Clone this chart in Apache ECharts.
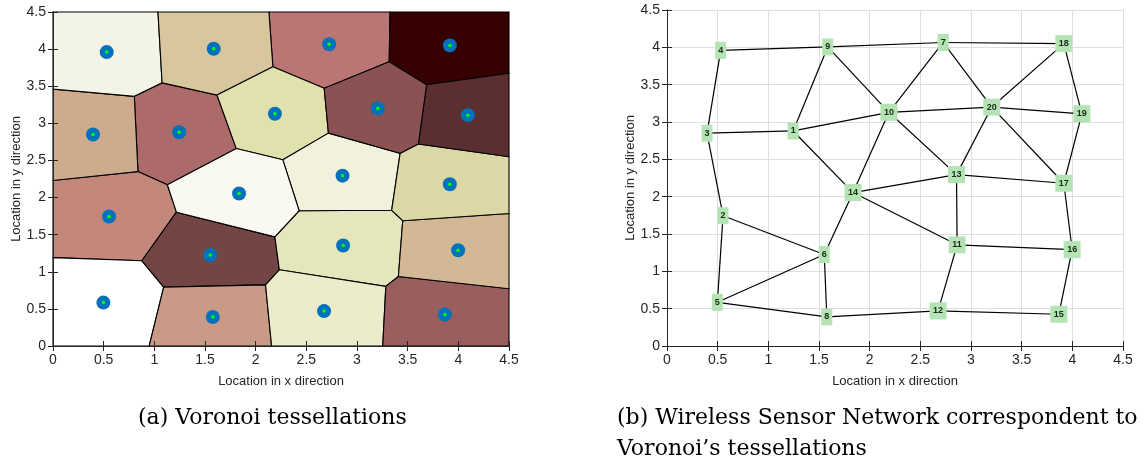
<!DOCTYPE html>
<html><head><meta charset="utf-8">
<script src="https://cdn.jsdelivr.net/npm/echarts@6/dist/echarts.min.js"></script>
<style>html,body{margin:0;padding:0;background:#fff}#c{width:1146px;height:463px}</style>
</head><body><div id="c"></div>
<script>
// ---- data ----
const nodeIds = ['1','2','3','4','5','6','7','8','9','10','11','12','13','14','15','16','17','18','19','20'];
const nodeX = [1.245,0.553,0.395,0.530,0.497,1.552,2.725,1.577,1.586,2.190,2.863,2.675,2.857,1.836,3.867,3.998,3.916,3.916,4.094,3.205];
const nodeY = [2.880,1.745,2.850,3.960,0.585,1.225,4.065,0.390,4.005,3.130,1.355,0.470,2.295,2.055,0.425,1.290,2.180,4.050,3.110,3.200];
const edgeFrom = [4,9,7,4,3,3,2,2,5,5,8,8,12,12,15,16,16,17,19,18,20,20,20,20,20,7,9,9,1,1,10,10,14,14,14,13,13];
const edgeTo   = [9,7,18,3,1,2,5,6,6,8,6,12,15,11,16,11,17,19,18,20,7,19,10,13,17,10,10,1,10,14,14,13,13,11,6,11,17];
const tickValues = [0,0.5,1,1.5,2,2.5,3,3.5,4,4.5];
const xName = 'Location in x direction';
const yName = 'Location in y direction';
const captionA = '(a) Voronoi tessellations';
const captionB1 = '(b) Wireless Sensor Network correspondent to';
const captionB2 = 'Voronoi\u2019s tessellations';

// ---- styles ----
const cellColors = ['#ad6a6a','#c3877c','#cfab8e','#f4f4e6','#ffffff','#744545','#bc7575','#c99a86','#d8c79e','#e1e1ae',
                    '#e6e6bd','#ececcd','#f1f1dd','#f9f9f2','#9a5e5e','#d3b896','#dcd8a6','#360000','#5b2f2f','#8a5252'];
const AX = '#262626';
const FONT = '"Liberation Sans", Arial, sans-serif';
const CAP_FONT = '22px "DejaVu Serif", serif';

// ---- Voronoi cells clipped to the axis box ----
const XMAX = tickValues[tickValues.length-1], YMAX = XMAX;
function clip(poly, a, b, c) {
  const out = [];
  for (let i = 0; i < poly.length; i++) {
    const P = poly[i], Q = poly[(i+1) % poly.length];
    const fp = a*P[0] + b*P[1] - c, fq = a*Q[0] + b*Q[1] - c;
    if (fp <= 0) out.push(P);
    if ((fp < 0 && fq > 0) || (fp > 0 && fq < 0)) {
      const t = fp / (fp - fq);
      out.push([P[0] + t*(Q[0]-P[0]), P[1] + t*(Q[1]-P[1])]);
    }
  }
  return out;
}
const cells = nodeX.map((xi, i) => {
  const yi = nodeY[i];
  let poly = [[0,0],[XMAX,0],[XMAX,YMAX],[0,YMAX]];
  nodeX.forEach((xj, j) => {
    if (j === i) return;
    const yj = nodeY[j];
    const a = xj - xi, b = yj - yi;
    const c = a*(xi+xj)/2 + b*(yi+yj)/2;
    poly = clip(poly, a, b, c);
  });
  return poly;
});

const sites = nodeX.map((x, i) => [x, nodeY[i]]);

function axisPair(gridIndex, withGrid) {
  const common = {
    gridIndex, min: 0, max: XMAX, interval: 0.5,
    axisLine: {show: true, lineStyle: {color: AX, width: 1}},
    axisTick: {show: true, inside: true, length: 5, lineStyle: {color: AX}},
    splitLine: {show: withGrid, lineStyle: {color: '#dfdfdf', width: 1}},
    axisLabel: {show: true, color: AX, fontSize: 14, fontFamily: FONT, margin: 7},
    nameTextStyle: {color: AX, fontSize: 13, fontFamily: FONT},
    nameLocation: 'middle'
  };
  const xs = [
    Object.assign({}, common, {type: 'value', position: 'bottom', name: xName, nameGap: 29, z: 5}),
    Object.assign({}, common, {type: 'value', position: 'top', axisLabel: {show: false}, splitLine: {show: false}, z: 5})
  ];
  const ys = [
    Object.assign({}, common, {type: 'value', position: 'left', name: yName, nameGap: 30, z: 5}),
    Object.assign({}, common, {type: 'value', position: 'right', axisLabel: {show: false}, splitLine: {show: false}, z: 5})
  ];
  return {xs, ys};
}
const A = axisPair(0, false), B = axisPair(1, true);
B.xs[0].z = 0; B.ys[0].z = 0;

const option = {
  animation: false,
  backgroundColor: '#ffffff',
  grid: [
    {left: 53, right: 637, top: 12, bottom: 117},
    {left: 667, right: 23, top: 10, bottom: 117}
  ],
  xAxis: [A.xs[0], A.xs[1], B.xs[0], B.xs[1]],
  yAxis: [A.ys[0], A.ys[1], B.ys[0], B.ys[1]],
  series: [
    {
      type: 'custom', xAxisIndex: 0, yAxisIndex: 0, z: 1,
      data: sites, encode: {x: 0, y: 1},
      renderItem: function (params, api) {
        const i = params.dataIndex;
        const pts = cells[i].map(p => api.coord(p));
        return {type: 'polygon', shape: {points: pts},
                style: {fill: cellColors[i], stroke: '#000', lineWidth: 1.1}};
      },
      silent: true
    },
    {type: 'scatter', xAxisIndex: 0, yAxisIndex: 0, z: 3, data: sites, symbol: 'circle', symbolSize: 14,
     itemStyle: {color: '#0072bd', opacity: 1}, silent: true},
    {type: 'scatter', xAxisIndex: 0, yAxisIndex: 0, z: 4, data: sites, symbol: 'circle', symbolSize: 3.5,
     itemStyle: {color: '#00ff00', opacity: 1}, silent: true},
    {
      type: 'graph', coordinateSystem: 'cartesian2d', xAxisIndex: 2, yAxisIndex: 2, layout: 'none', z: 3,
      data: nodeIds.map((id, i) => ({name: id, value: [nodeX[i], nodeY[i]],
                                     symbolSize: id.length > 1 ? [17, 17] : [11, 17]})),
      links: edgeFrom.map((s, k) => ({source: String(s), target: String(edgeTo[k])})),
      symbol: 'rect',
      itemStyle: {color: '#b4e4b4', opacity: 1},
      lineStyle: {color: '#000', width: 1.2, opacity: 1, curveness: 0},
      label: {show: true, position: 'inside', color: '#1a2a1a', fontSize: 9, fontFamily: FONT, fontWeight: 'bold',
              formatter: '{b}'},
      emphasis: {disabled: true}, silent: true
    }
  ],
  graphic: [
    {type: 'text', x: 138, y: 418, style: {text: captionA, font: CAP_FONT, fill: '#000', verticalAlign: 'middle', align: 'left'}},
    {type: 'text', x: 617, y: 418, style: {text: captionB1, font: CAP_FONT, fill: '#000', verticalAlign: 'middle', align: 'left'}},
    {type: 'text', x: 617, y: 449, style: {text: captionB2, font: CAP_FONT, fill: '#000', verticalAlign: 'middle', align: 'left'}}
  ]
};
const chart = echarts.init(document.getElementById('c'), null, {renderer: 'canvas'});
chart.setOption(option);
</script></body></html>
